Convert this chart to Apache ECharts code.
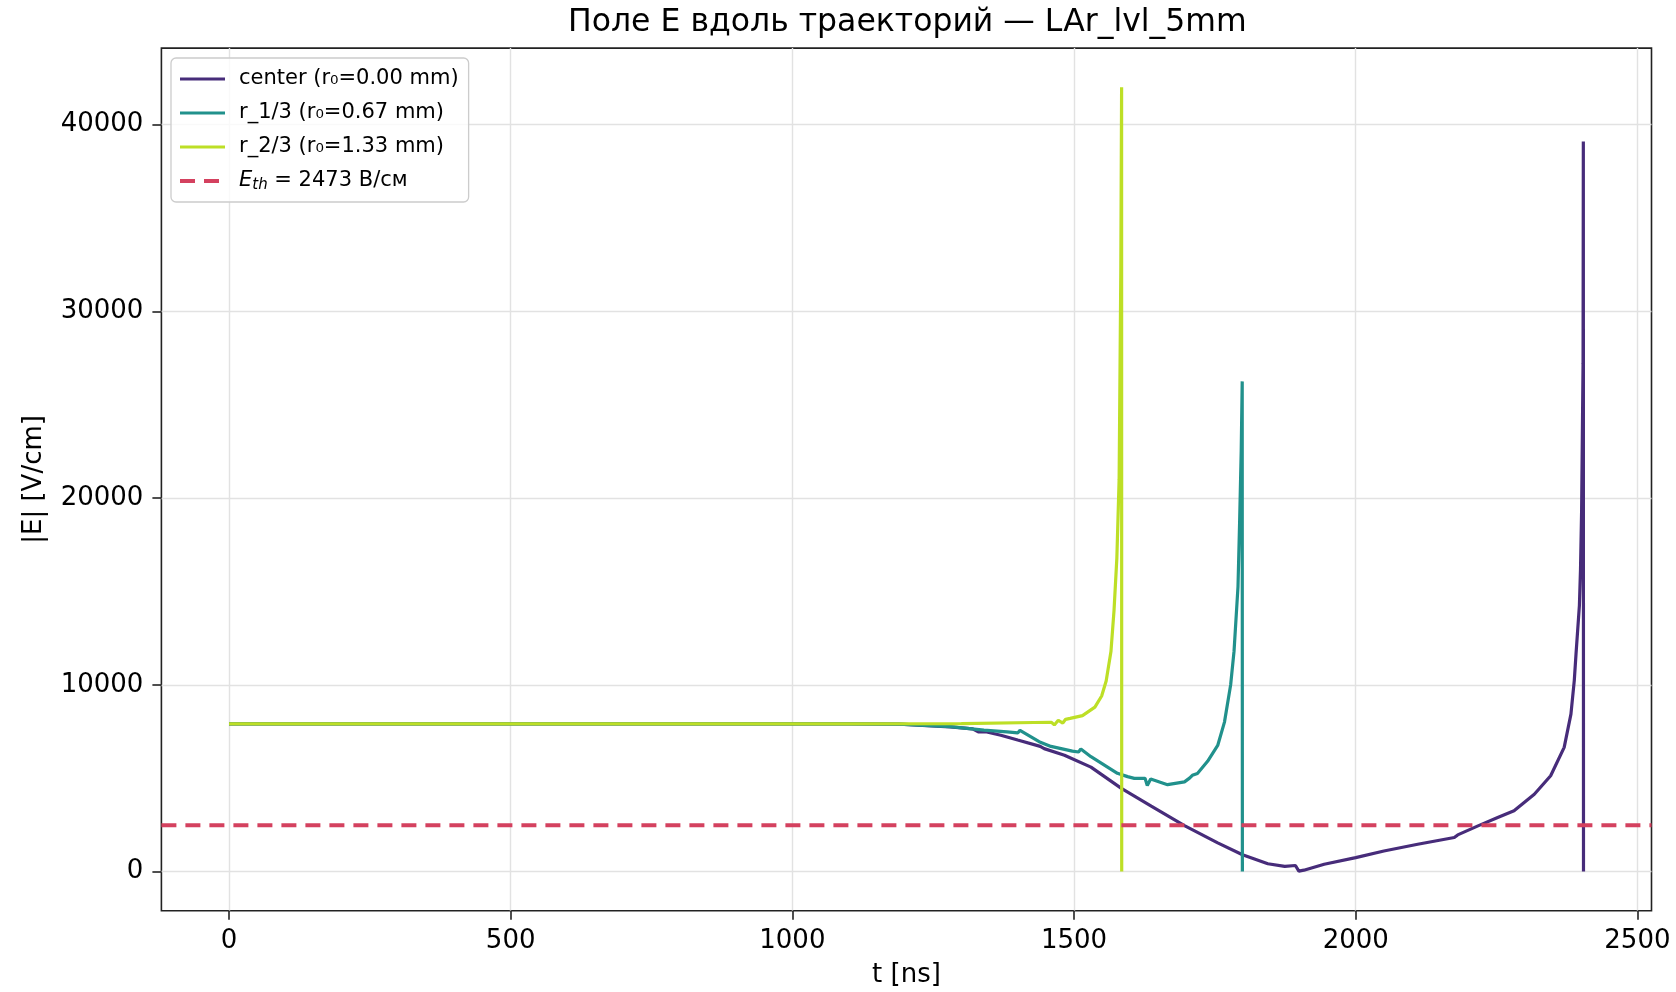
<!DOCTYPE html>
<html>
<head>
<meta charset="utf-8">
<script src="https://cdn.jsdelivr.net/npm/echarts@6/dist/echarts.min.js"></script>
<style>
html,body{margin:0;padding:0;background:#fff;}
#chart{width:1676px;height:992px;}
</style>
</head>
<body>
<div id="chart"></div>
<script>
// ---- data ----
const TITLE = 'Поле E вдоль траекторий — LAr_lvl_5mm';
const SERIES_NAMES = ['center (r₀=0.00 mm)', 'r_1/3 (r₀=0.67 mm)', 'r_2/3 (r₀=1.33 mm)', 'E_th = 2473 В/см'];
const X_TICKS = [0, 500, 1000, 1500, 2000, 2500];
const Y_TICKS = [0, 10000, 20000, 30000, 40000];
const X_RANGE = [-120, 2525];
const Y_RANGE = [-2100, 44100];
const E_TH = 2473;

const T_CENTER = [0, 300, 600, 900, 1100, 1190, 1280, 1320, 1330, 1345, 1370, 1400, 1440, 1447, 1483, 1530, 1584, 1637, 1696, 1755, 1799, 1844, 1874, 1893, 1899, 1908, 1944, 2000, 2050, 2110, 2175, 2181, 2216, 2252, 2281, 2317, 2346, 2370, 2382, 2388, 2391, 2397, 2399, 2401, 2403.5, 2404, 2404.3];
const E_CENTER = [7910, 7910, 7910, 7910, 7910, 7890, 7750, 7640, 7480, 7470, 7300, 7040, 6700, 6580, 6230, 5590, 4450, 3500, 2460, 1530, 900, 414, 270, 320, 20, 70, 390, 745, 1100, 1460, 1820, 1960, 2430, 2890, 3250, 4140, 5130, 6650, 8430, 10250, 11640, 14240, 16200, 19430, 27200, 39100, 0];

const T_R13 = [0, 300, 600, 900, 1100, 1190, 1280, 1340, 1381, 1400, 1404, 1438, 1459, 1497, 1508, 1512, 1530, 1577, 1595, 1607, 1626, 1630, 1636, 1666, 1696, 1705, 1710, 1719, 1737, 1755, 1767, 1778, 1784, 1791, 1794, 1796.7, 1798.5, 1798.8];
const E_R13 = [7910, 7910, 7910, 7910, 7910, 7890, 7760, 7570, 7480, 7420, 7560, 6950, 6700, 6450, 6400, 6560, 6150, 5260, 5080, 4990, 4990, 4600, 4950, 4650, 4800, 5000, 5150, 5250, 5900, 6750, 8000, 10000, 11800, 15250, 18870, 22500, 26250, 0];

const T_R23 = [0, 300, 600, 900, 1100, 1300, 1429, 1460, 1465, 1472, 1480, 1485, 1493, 1515, 1537, 1549, 1557, 1565.5, 1571, 1576, 1580, 1583, 1584.4, 1584.6];
const E_R23 = [7910, 7910, 7910, 7910, 7910, 7920, 7980, 7990, 7850, 8100, 7950, 8150, 8200, 8350, 8800, 9400, 10200, 11780, 14000, 16800, 21000, 32200, 42000, 0];

const COLORS = ['#472c7a', '#21918c', '#bddf26', '#d4415f'];
const LINE_W = 3.2;
const DASH = [15, 9];

function pairs(ts, es) { return ts.map((t, i) => [t, es[i]]); }

const FONT = 'DejaVu Sans';
const chart = echarts.init(document.getElementById('chart'), null, {renderer: 'canvas'});

const lineBase = {type: 'line', symbol: 'none', showSymbol: false, animation: false, silent: true};

chart.setOption({
  animation: false,
  backgroundColor: '#ffffff',
  title: {
    text: TITLE,
    left: 568,
    top: 7,
    padding: 0,
    textStyle: {fontFamily: FONT, fontSize: 31.5, fontWeight: 'normal', color: '#000'}
  },
  grid: {
    left: 161.4, right: 24.5, top: 48.1, bottom: 81.3,
    containLabel: false, outerBoundsMode: 'none',
    show: true, borderColor: '#222', borderWidth: 1.6, backgroundColor: 'transparent'
  },
  legend: {
    orient: 'vertical',
    left: 171, top: 58,
    padding: [9, 10, 9, 7],
    itemWidth: 45, itemHeight: 14, itemGap: 10,
    backgroundColor: 'rgba(255,255,255,0.8)',
    borderColor: '#cccccc', borderWidth: 1.3, borderRadius: 5,
    itemStyle: {opacity: 0},
    data: SERIES_NAMES.map((n, i) => ({
      name: n,
      lineStyle: {color: COLORS[i], width: i === 3 ? 4 : LINE_W, type: i === 3 ? DASH : 'solid', opacity: 1}
    })),
    textStyle: {
      fontFamily: FONT, fontSize: 21, color: '#000', lineHeight: 24, padding: [0, 0, 0, 9],
      rich: {
        it: {fontFamily: FONT, fontSize: 21, fontStyle: 'italic', color: '#000'},
        sub: {fontFamily: FONT, fontSize: 15, fontStyle: 'italic', color: '#000', padding: [9, 0, 0, 0]},
        n: {fontFamily: FONT, fontSize: 21, color: '#000'}
      }
    },
    formatter: function (name) {
      if (name === SERIES_NAMES[3]) {
        return '{it|E}{sub|th}{n| = ' + E_TH + ' В/см}';
      }
      return name;
    }
  },
  xAxis: {
    type: 'value', min: X_RANGE[0], max: X_RANGE[1],
    name: 't [ns]', nameLocation: 'middle', nameGap: 52,
    nameTextStyle: {fontFamily: FONT, fontSize: 26, color: '#000'},
    axisLine: {show: false, onZero: false},
    axisTick: {show: true, inside: false, length: 9, lineStyle: {color: '#222', width: 1.6}, customValues: X_TICKS},
    axisLabel: {fontFamily: FONT, fontSize: 26, color: '#000', margin: 18, customValues: X_TICKS,
      formatter: v => String(v)},
    splitLine: {show: true, lineStyle: {color: '#e2e2e2', width: 1.4}}
  },
  yAxis: {
    type: 'value', min: Y_RANGE[0], max: Y_RANGE[1],
    name: '|E| [V/cm]', nameLocation: 'middle', nameGap: 114,
    nameTextStyle: {fontFamily: FONT, fontSize: 26, color: '#000'},
    axisLine: {show: false, onZero: false},
    axisTick: {show: true, inside: false, length: 9, lineStyle: {color: '#222', width: 1.6}, customValues: Y_TICKS},
    axisLabel: {fontFamily: FONT, fontSize: 26, color: '#000', margin: 18, customValues: Y_TICKS,
      formatter: v => String(v)},
    splitLine: {show: true, lineStyle: {color: '#e2e2e2', width: 1.4}}
  },
  series: [
    Object.assign({}, lineBase, {name: SERIES_NAMES[0], z: 2, data: pairs(T_CENTER, E_CENTER),
      lineStyle: {color: COLORS[0], width: LINE_W}, itemStyle: {color: COLORS[0]}}),
    Object.assign({}, lineBase, {name: SERIES_NAMES[1], z: 3, data: pairs(T_R13, E_R13),
      lineStyle: {color: COLORS[1], width: LINE_W}, itemStyle: {color: COLORS[1]}}),
    Object.assign({}, lineBase, {name: SERIES_NAMES[2], z: 4, data: pairs(T_R23, E_R23),
      lineStyle: {color: COLORS[2], width: LINE_W}, itemStyle: {color: COLORS[2]}}),
    Object.assign({}, lineBase, {name: SERIES_NAMES[3], z: 5, data: [[X_RANGE[0], E_TH], [X_RANGE[1], E_TH]],
      lineStyle: {color: COLORS[3], width: 4, type: DASH}, itemStyle: {color: COLORS[3]}})
  ]
});
</script>
</body>
</html>
